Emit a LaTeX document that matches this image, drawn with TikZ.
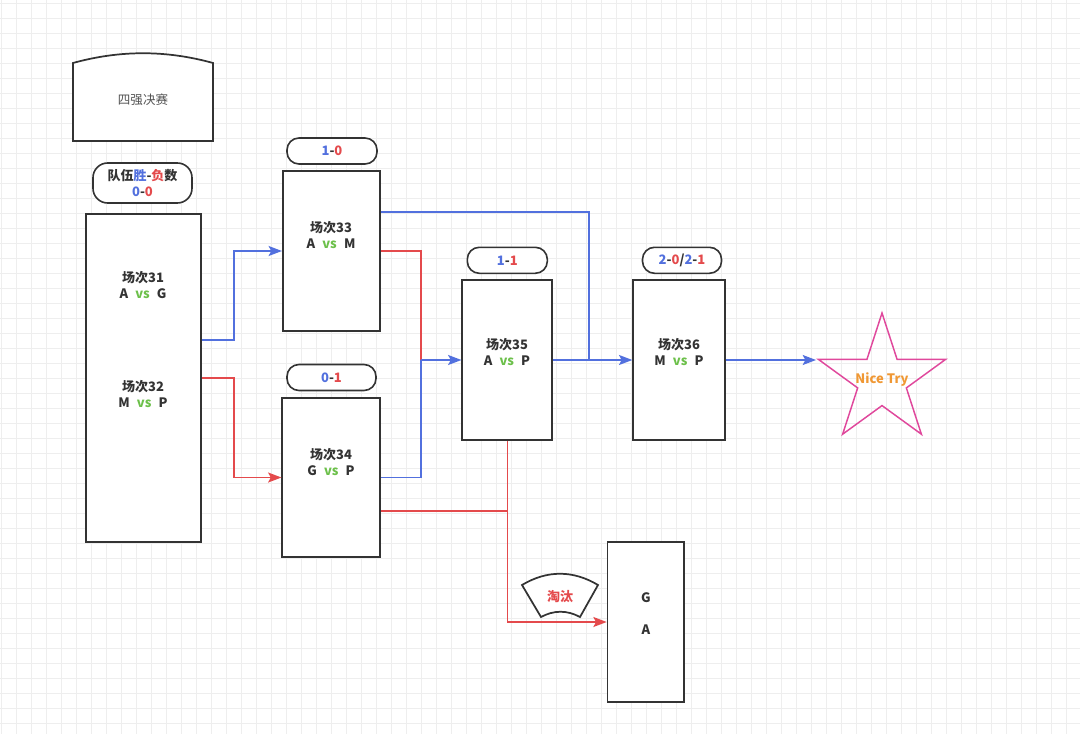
\documentclass[tikz,border=0pt]{standalone}
\usepackage{fontspec}
\setmainfont{Noto Sans CJK SC}
\usepackage{xcolor}
\usepackage{tikz}
\usetikzlibrary{shapes.geometric}
\usetikzlibrary{arrows.meta}

\definecolor{winblue}{RGB}{82,112,222}
\definecolor{losered}{RGB}{228,74,76}
\definecolor{vsgreen}{RGB}{108,192,74}
\definecolor{niceorange}{RGB}{240,152,52}
\definecolor{starpink}{RGB}{224,72,156}
\definecolor{boxgray}{RGB}{51,51,51}
\definecolor{gridgray}{RGB}{238,238,238}

\newcommand{\versus}{\hspace{0.55em}{\color{vsgreen}vs}\hspace{0.55em}}
\newcommand{\tally}[2]{{\color{winblue}#1}-{\color{losered}#2}}

\begin{document}
\begin{tikzpicture}[x=0.75pt, y=-0.75pt, >={Stealth[length=10pt,width=7.5pt,inset=2pt]},
  every node/.style={font=\fontsize{9.75}{12}\selectfont\bfseries, text=boxgray, align=center},
  match/.style={draw=boxgray, line width=1.3pt, fill=white, inner sep=0pt},
  record/.style={draw=boxgray, line width=1.2pt, fill=white, rounded corners=9pt, minimum height=19.5pt, inner sep=0pt},
  winline/.style={draw=winblue, line width=1.1pt},
  loseline/.style={draw=losered, line width=1.1pt},
  gridline/.style={draw=gridgray, line width=0.6pt}]

  % ===== Background grid =====
  \fill[white] (0,0) rectangle (1080,734);
  \useasboundingbox (0,0) rectangle (1080,734);
  \foreach \gx in {0,...,71}
    \draw[gridline] ({1.7+15*\gx},0) -- ({1.7+15*\gx},734);
  \foreach \gy in {0,...,48}
    \draw[gridline] (0,{3.3+15*\gy}) -- (1080,{3.3+15*\gy});

  % ===== Heading =====
  \draw[boxgray, line width=1.3pt, fill=white]
    (73,141) -- (73,63) .. controls (120,50) and (166,50) .. (213,63) -- (213,141) -- cycle;
  \node[font=\fontsize{9.4}{12}\selectfont\mdseries, text=boxgray!85] (title) at (143,100) {四强决赛};

  % legend: wins-losses
  \node[record, rounded corners=11pt, minimum width=74.25pt, minimum height=30pt] (legend) at (142.5,183)
    {队伍{\color{winblue}胜}-{\color{losered}负}数\\\tally{0}{0}};

  % ===== Round 1 =====
  \node[match, minimum width=86.25pt, minimum height=246pt] (m31) at (143.5,378) {};
  \node (t31) at (143,285) {场次31\\A\versus G};
  \node (t32) at (143,394) {场次32\\M\versus P};

  % ===== Round 2 =====
  \node[record, minimum width=67.5pt] (r33) at (332,151) {\tally{1}{0}};
  \node[match, minimum width=72.75pt, minimum height=120pt] (m33) at (331.3,251) {};
  \node (t33) at (331,235) {场次33\\A\versus M};

  \node[record, minimum width=66.75pt] (r34) at (331.5,377.5) {\tally{0}{1}};
  \node[match, minimum width=73.5pt, minimum height=119.25pt] (m34) at (331.3,477.5) {};
  \node (t34) at (331,462) {场次34\\G\versus P};

  % ===== Round 3 =====
  \node[record, minimum width=60pt] (r35) at (507.3,260.3) {\tally{1}{1}};
  \node[match, minimum width=67.5pt, minimum height=120pt] (m35) at (507.3,360) {};
  \node (t35) at (507,352) {场次35\\A\versus P};

  \node[record, minimum width=59.25pt] (r36) at (682,260.3) {\tally{2}{0}/\tally{2}{1}};
  \node[match, minimum width=69pt, minimum height=120pt] (m36) at (679.2,360) {};
  \node (t36) at (679,352) {场次36\\M\versus P};

  % ===== Finish and out =====
  \node[star, star points=5, star point ratio=2.618, draw=starpink, line width=1.1pt,
        minimum size=100.5pt, inner sep=0pt,
        label={[name=nice, text=niceorange]center:Nice Try}] (finish) at (882,380) {};

  \node[match, minimum width=57.4pt, minimum height=120pt] (out) at (645.8,622) {};
  \node (tout) at (646,614) {G\\[12pt]A};

  \draw[boxgray, line width=1.3pt, fill=white]
    (522,585) .. controls (547,570) and (573,570) .. (598,585) -- (580,617)
    .. controls (567,610) and (554,610) .. (541,617) -- cycle;
  \node[text=losered] (cut) at (560,597) {淘汰};

  % ===== Connectors =====
  \coordinate (in35) at (421,360);
  \coordinate (merge) at (589,360);

  \draw[winline, ->] ([yshift=28.5pt]m31.east) -- ++(32,0) |- (m33.west);
  \draw[loseline, ->] (m31.east) -- ++(32,0) |- (m34.west);

  \draw[winline] ([yshift=29.25pt]m33.east) -| (merge);
  \draw[loseline] (m33.east) -| (in35);
  \draw[winline] (m34.east) -| (in35);
  \draw[winline, ->] (in35) -- (m35.west);

  \draw[loseline] ([yshift=-25pt]m34.east) -- ([yshift=-25pt]m34.east -| m35.south);
  \draw[loseline, ->] (m35.south) |- (out.west);

  \draw[winline, ->] (m35.east) -- (m36.west);
  \draw[winline, ->] (m36.east) -- (m36.east -| finish.outer point 2);
\end{tikzpicture}
\end{document}
